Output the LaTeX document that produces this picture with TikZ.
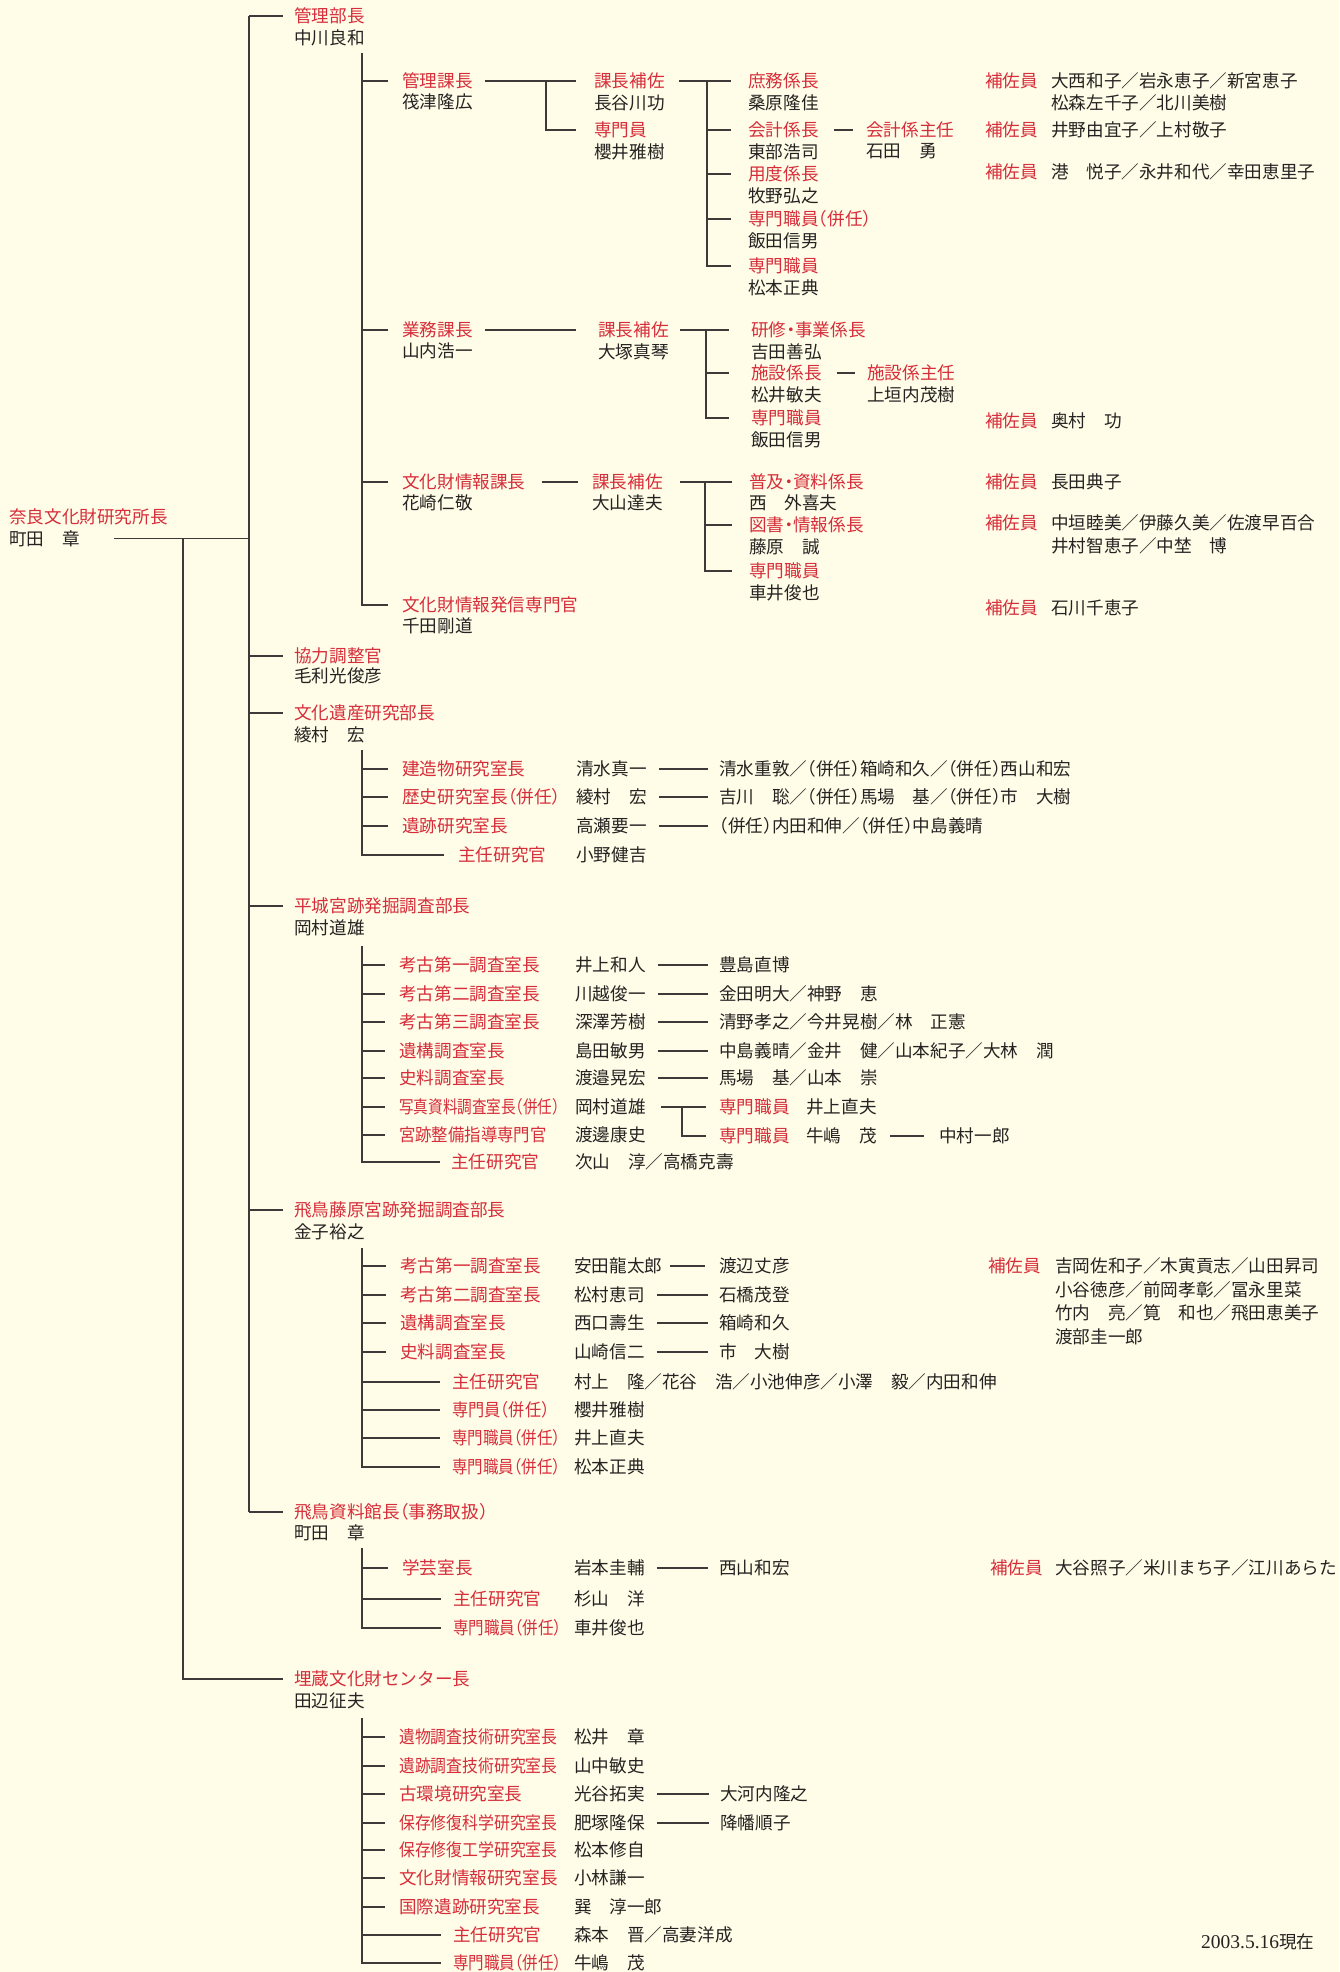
\documentclass[tikz,border=0pt]{standalone}
\usepackage{fontspec}
\setmainfont{Noto Sans CJK JP}[RawFeature=+halt]
\newfontfamily\datefont{Liberation Serif}
\usepackage{xcolor}
\usetikzlibrary{positioning,calc}
\definecolor{jred}{RGB}{214,45,58}
\definecolor{jink}{RGB}{38,34,34}
\definecolor{jline}{RGB}{62,58,58}
\definecolor{paper}{RGB}{255,253,232}

\begin{document}
\begin{tikzpicture}[x=1pt,y=-1pt,font=\fontsize{17.6}{21}\selectfont,
  tt/.style={anchor=west,inner sep=0pt,text=jred},
  nm/.style={anchor=west,inner sep=0pt,text=jink},
  ln/.style={draw=jline,line width=1.3pt},
  lk/.style={ln,shorten <=12pt,shorten >=11pt}]
  \fill[paper] (0,0) rectangle (1339,1972);

  \node[tt] (root) at (9,517) {奈良文化財研究所長};
  \node[nm] (rootn) at ([yshift=-21.5pt]root.west) {町田　章};
  \coordinate (ta) at (249,16);
  \coordinate (tb) at (183,541);

  \node[tt] (bu1) at (294,16) {管理部長};
  \node[nm] (bu1n) at ([yshift=-22pt]bu1.west) {中川良和};
  \node[tt] (kyo) at (294,656) {協力調整官};
  \node[nm] (kyon) at ([yshift=-20pt]kyo.west) {毛利光俊彦};
  \node[tt] (iken) at (294,713) {文化遺産研究部長};
  \node[nm] (ikenn) at ([yshift=-21.5pt]iken.west) {綾村　宏};
  \node[tt] (heij) at (294,906) {平城宮跡発掘調査部長};
  \node[nm] (heijn) at ([yshift=-21.5pt]heij.west) {岡村道雄};
  \node[tt] (fuji) at (294,1210) {飛鳥藤原宮跡発掘調査部長};
  \node[nm] (fujin) at ([yshift=-21.5pt]fuji.west) {金子裕之};
  \node[tt] (asu) at (294,1512) {飛鳥資料館長（事務取扱）};
  \node[nm] (asun) at ([yshift=-21pt]asu.west) {町田　章};
  \node[tt] (maizo) at (294,1679) {埋蔵文化財センター長};
  \node[nm] (maizon) at ([yshift=-22pt]maizo.west) {田辺征夫};

  \draw[ln] ([xshift=34pt]rootn.east) -- (rootn.east -| ta);
  \draw[ln] (ta) -- (ta |- asu);
  \draw[ln] (tb |- rootn.east) |- ([xshift=-11pt]maizo.west);
  \draw[ln] (ta) -- ([xshift=-11pt]bu1.west)
    (ta |- kyo) -- ([xshift=-11pt]kyo.west)
    (ta |- iken) -- ([xshift=-11pt]iken.west)
    (ta |- heij) -- ([xshift=-11pt]heij.west)
    (ta |- fuji) -- ([xshift=-11pt]fuji.west)
    (ta |- asu) -- ([xshift=-11pt]asu.west);

  % 管理部
  \coordinate (tk) at (362,53);
  \node[tt] (ka1) at (402,81) {管理課長};
  \node[nm] (ka1n) at ([yshift=-21pt]ka1.west) {筏津隆広};
  \node[tt] (ka2) at (402,330) {業務課長};
  \node[nm] (ka2n) at ([yshift=-21pt]ka2.west) {山内浩一};
  \node[tt] (ka3) at (402,482) {文化財情報課長};
  \node[nm] (ka3n) at ([yshift=-21pt]ka3.west) {花崎仁敬};
  \node[tt] (ka4) at (402,605) {文化財情報発信専門官};
  \node[nm] (ka4n) at ([yshift=-21pt]ka4.west) {千田剛道};
  \draw[ln] (tk) |- ([xshift=-14pt]ka4.west);
  \draw[ln] (tk |- ka1) -- ([xshift=-14pt]ka1.west)
    (tk |- ka2) -- ([xshift=-14pt]ka2.west)
    (tk |- ka3) -- ([xshift=-14pt]ka3.west);

  \node[tt] (hs1) at (594,81) {課長補佐};
  \node[nm] (hs1n) at ([yshift=-22pt]hs1.west) {長谷川功};
  \node[tt] (sm1) at (594,130) {専門員};
  \node[nm] (sm1n) at ([yshift=-22pt]sm1.west) {櫻井雅樹};
  \coordinate (k1) at (546,81);
  \draw[ln] ([xshift=12pt]ka1.east) -- ([xshift=-18pt]hs1.west);
  \draw[ln] (k1) |- ([xshift=-18pt]sm1.west);

  \node[tt] (kk1) at (748,81) {庶務係長};
  \node[nm] (kk1n) at ([yshift=-21.5pt]kk1.west) {桑原隆佳};
  \node[tt] (kk2) at (748,130) {会計係長};
  \node[nm] (kk2n) at ([yshift=-21.5pt]kk2.west) {東部浩司};
  \node[tt] (kk3) at (748,174) {用度係長};
  \node[nm] (kk3n) at ([yshift=-21.5pt]kk3.west) {牧野弘之};
  \node[tt] (kk4) at (748,219) {専門職員（併任）};
  \node[nm] (kk4n) at ([yshift=-21.5pt]kk4.west) {飯田信男};
  \node[tt] (kk5) at (748,266) {専門職員};
  \node[nm] (kk5n) at ([yshift=-21.5pt]kk5.west) {松本正典};
  \node[tt] (ks) at (866,130) {会計係主任};
  \node[nm] (ksn) at ([yshift=-21.5pt]ks.west) {石田　勇};
  \coordinate (k2) at (707,81);
  \draw[ln] ([xshift=14pt]hs1.east) -- ([xshift=-17pt]kk1.west);
  \draw[ln] (k2) |- ([xshift=-17pt]kk5.west);
  \draw[ln] (k2 |- kk2) -- ([xshift=-17pt]kk2.west)
    (k2 |- kk3) -- ([xshift=-17pt]kk3.west)
    (k2 |- kk4) -- ([xshift=-17pt]kk4.west);
  \draw[ln] ([xshift=15pt]kk2.east) -- ([xshift=-13pt]ks.west);

  \node[tt] (hy1) at (985,81) {補佐員};
  \node[nm] (hy1n) at (1051,81) {大西和子／岩永恵子／新宮恵子};
  \node[nm] (hy1m) at ([yshift=-21.5pt]hy1n.west) {松森左千子／北川美樹};
  \node[tt] (hy2) at (985,130) {補佐員};
  \node[nm] (hy2n) at (1051,130) {井野由宜子／上村敬子};
  \node[tt] (hy3) at (985,172) {補佐員};
  \node[nm] (hy3n) at (1051,172) {港　悦子／永井和代／幸田恵里子};

  \node[tt] (hs2) at (598,330) {課長補佐};
  \node[nm] (hs2n) at ([yshift=-22pt]hs2.west) {大塚真琴};
  \draw[ln] ([xshift=12pt]ka2.east) -- ([xshift=-22pt]hs2.west);
  \node[tt] (gk1) at (751,330) {研修・事業係長};
  \node[nm] (gk1n) at ([yshift=-21.5pt]gk1.west) {吉田善弘};
  \node[tt] (gk2) at (751,373) {施設係長};
  \node[nm] (gk2n) at ([yshift=-21.5pt]gk2.west) {松井敏夫};
  \node[tt] (gk3) at (751,418) {専門職員};
  \node[nm] (gk3n) at ([yshift=-21.5pt]gk3.west) {飯田信男};
  \node[tt] (gs) at (867,373) {施設係主任};
  \node[nm] (gsn) at ([yshift=-21.5pt]gs.west) {上垣内茂樹};
  \coordinate (k3) at (706,330);
  \draw[ln] ([xshift=11pt]hs2.east) -- ([xshift=-22pt]gk1.west);
  \draw[ln] (k3) |- ([xshift=-22pt]gk3.west);
  \draw[ln] (k3 |- gk2) -- ([xshift=-22pt]gk2.west);
  \draw[ln] ([xshift=15pt]gk2.east) -- ([xshift=-12pt]gs.west);
  \node[tt] (hy4) at (985,421) {補佐員};
  \node[nm] (hy4n) at (1051,421) {奥村　功};

  \node[tt] (hs3) at (592,482) {課長補佐};
  \node[nm] (hs3n) at ([yshift=-21pt]hs3.west) {大山達夫};
  \draw[ln] ([xshift=16pt]ka3.east) -- ([xshift=-14pt]hs3.west);
  \node[tt] (jk1) at (749,482) {普及・資料係長};
  \node[nm] (jk1n) at ([yshift=-21pt]jk1.west) {西　外喜夫};
  \node[tt] (jk2) at (749,525) {図書・情報係長};
  \node[nm] (jk2n) at ([yshift=-21.5pt]jk2.west) {藤原　誠};
  \node[tt] (jk3) at (749,571) {専門職員};
  \node[nm] (jk3n) at ([yshift=-22pt]jk3.west) {車井俊也};
  \coordinate (k4) at (705,482);
  \draw[ln] ([xshift=17pt]hs3.east) -- ([xshift=-17pt]jk1.west);
  \draw[ln] (k4) |- ([xshift=-17pt]jk3.west);
  \draw[ln] (k4 |- jk2) -- ([xshift=-17pt]jk2.west);
  \node[tt] (hy5) at (985,482) {補佐員};
  \node[nm] (hy5n) at (1051,482) {長田典子};
  \node[tt] (hy6) at (985,523) {補佐員};
  \node[nm] (hy6n) at (1051,523) {中垣睦美／伊藤久美／佐渡早百合};
  \node[nm] (hy6m) at ([yshift=-23pt]hy6n.west) {井村智恵子／中埜　博};
  \node[tt] (hy7) at (985,608) {補佐員};
  \node[nm] (hy7n) at (1051,608) {石川千恵子};

  % 文化遺産研究部
  \coordinate (t2) at (362,750);
  \node[tt] (br1) at (402,769) {建造物研究室長};
  \node[nm] (br1n) at (576,769) {清水真一};
  \node[nm] (br1m) at (719,769) {清水重敦／（併任）箱崎和久／（併任）西山和宏};
  \node[tt] (br2) at (402,797) {歴史研究室長（併任）};
  \node[nm] (br2n) at (576,797) {綾村　宏};
  \node[nm] (br2m) at (719,797) {吉川　聡／（併任）馬場　基／（併任）市　大樹};
  \node[tt] (br3) at (402,826) {遺跡研究室長};
  \node[nm] (br3n) at (576,826) {高瀬要一};
  \node[nm] (br3m) at (719,826) {（併任）内田和伸／（併任）中島義晴};
  \node[tt] (br4) at (458,855) {主任研究官};
  \node[nm] (br4n) at (576,855) {小野健吉};
  \draw[ln] (t2) |- ([xshift=-14pt]br4.west);
  \draw[ln] (t2 |- br1) -- ([xshift=-14pt]br1.west)
    (t2 |- br2) -- ([xshift=-14pt]br2.west)
    (t2 |- br3) -- ([xshift=-14pt]br3.west);
  \draw[lk] (br1n.east) -- (br1m.west);
  \draw[lk] (br2n.east) -- (br2m.west);
  \draw[lk] (br3n.east) -- (br3m.west);

  % 平城宮跡発掘調査部
  \coordinate (t3) at (362,946);
  \node[tt] (hj1) at (399,965) {考古第一調査室長};
  \node[nm] (hj1n) at (575,965) {井上和人};
  \node[nm] (hj1m) at (719,965) {豊島直博};
  \node[tt] (hj2) at (399,994) {考古第二調査室長};
  \node[nm] (hj2n) at (575,994) {川越俊一};
  \node[nm] (hj2m) at (719,994) {金田明大／神野　恵};
  \node[tt] (hj3) at (399,1022) {考古第三調査室長};
  \node[nm] (hj3n) at (575,1022) {深澤芳樹};
  \node[nm] (hj3m) at (719,1022) {清野孝之／今井晃樹／林　正憲};
  \node[tt] (hj4) at (399,1051) {遺構調査室長};
  \node[nm] (hj4n) at (575,1051) {島田敏男};
  \node[nm] (hj4m) at (719,1051) {中島義晴／金井　健／山本紀子／大林　潤};
  \node[tt] (hj5) at (399,1078) {史料調査室長};
  \node[nm] (hj5n) at (575,1078) {渡邉晃宏};
  \node[nm] (hj5m) at (719,1078) {馬場　基／山本　崇};
  \node[tt] (hj6) at (399,1107) {\scalebox{0.83}[1]{写真資料調査室長（併任）}};
  \node[nm] (hj6n) at (575,1107) {岡村道雄};
  \node[tt] (hj7) at (399,1135) {\scalebox{0.93}[1]{宮跡整備指導専門官}};
  \node[nm] (hj7n) at (575,1135) {渡邊康史};
  \node[tt] (hj8) at (451,1162) {主任研究官};
  \node[nm] (hj8n) at (575,1162) {次山　淳／高橋克壽};
  \draw[ln] (t3) |- ([xshift=-11pt]hj8.west);
  \draw[ln] (t3 |- hj1) -- ([xshift=-14pt]hj1.west)
    (t3 |- hj2) -- ([xshift=-14pt]hj2.west)
    (t3 |- hj3) -- ([xshift=-14pt]hj3.west)
    (t3 |- hj4) -- ([xshift=-14pt]hj4.west)
    (t3 |- hj5) -- ([xshift=-14pt]hj5.west)
    (t3 |- hj6) -- ([xshift=-14pt]hj6.west)
    (t3 |- hj7) -- ([xshift=-14pt]hj7.west);
  \draw[lk] (hj1n.east) -- (hj1m.west);
  \draw[lk] (hj2n.east) -- (hj2m.west);
  \draw[lk] (hj3n.east) -- (hj3m.west);
  \draw[lk] (hj4n.east) -- (hj4m.west);
  \draw[lk] (hj5n.east) -- (hj5m.west);
  \node[tt] (sk1) at (719,1107) {専門職員};
  \node[nm] (sk1n) at (806,1107) {井上直夫};
  \node[tt] (sk2) at (719,1136) {専門職員};
  \node[nm] (sk2n) at (806,1136) {牛嶋　茂};
  \node[nm] (nk) at (939,1136) {中村一郎};
  \coordinate (k5) at (682,1107);
  \draw[ln] ([xshift=15pt]hj6n.east) -- ([xshift=-13pt]sk1.west);
  \draw[ln] (k5) |- ([xshift=-13pt]sk2.west);
  \draw[ln,shorten <=13pt,shorten >=15pt] (sk2n.east) -- (nk.west);

  % 飛鳥藤原宮跡発掘調査部
  \coordinate (t4) at (362,1248);
  \node[tt] (fj1) at (400,1266) {考古第一調査室長};
  \node[nm] (fj1n) at (574,1266) {安田龍太郎};
  \node[nm] (fj1m) at (719,1266) {渡辺丈彦};
  \node[tt] (fj2) at (400,1295) {考古第二調査室長};
  \node[nm] (fj2n) at (574,1295) {松村恵司};
  \node[nm] (fj2m) at (719,1295) {石橋茂登};
  \node[tt] (fj3) at (400,1323) {遺構調査室長};
  \node[nm] (fj3n) at (574,1323) {西口壽生};
  \node[nm] (fj3m) at (719,1323) {箱崎和久};
  \node[tt] (fj4) at (400,1352) {史料調査室長};
  \node[nm] (fj4n) at (574,1352) {山崎信二};
  \node[nm] (fj4m) at (719,1352) {市　大樹};
  \node[tt] (fj5) at (452,1382) {主任研究官};
  \node[nm] (fj5n) at (574,1382) {村上　隆／花谷　浩／小池伸彦／小澤　毅／内田和伸};
  \node[tt] (fj6) at (452,1410) {\scalebox{0.92}[1]{専門員（併任）}};
  \node[nm] (fj6n) at (574,1410) {櫻井雅樹};
  \node[tt] (fj7) at (452,1438) {\scalebox{0.88}[1]{専門職員（併任）}};
  \node[nm] (fj7n) at (574,1438) {井上直夫};
  \node[tt] (fj8) at (452,1467) {\scalebox{0.88}[1]{専門職員（併任）}};
  \node[nm] (fj8n) at (574,1467) {松本正典};
  \draw[ln] (t4) |- ([xshift=-12pt]fj8.west);
  \draw[ln] (t4 |- fj1) -- ([xshift=-14pt]fj1.west)
    (t4 |- fj2) -- ([xshift=-14pt]fj2.west)
    (t4 |- fj3) -- ([xshift=-14pt]fj3.west)
    (t4 |- fj4) -- ([xshift=-14pt]fj4.west)
    (t4 |- fj5) -- ([xshift=-12pt]fj5.west)
    (t4 |- fj6) -- ([xshift=-12pt]fj6.west)
    (t4 |- fj7) -- ([xshift=-12pt]fj7.west);
  \draw[ln,shorten <=8pt,shorten >=14pt] (fj1n.east) -- (fj1m.west);
  \draw[lk] (fj2n.east) -- (fj2m.west);
  \draw[lk] (fj3n.east) -- (fj3m.west);
  \draw[lk] (fj4n.east) -- (fj4m.west);
  \node[tt] (hy8) at (988,1266) {補佐員};
  \node[nm] (hy8a) at (1055,1266) {吉岡佐和子／木寅貢志／山田昇司};
  \node[nm] (hy8b) at ([yshift=-23.5pt]hy8a.west) {小谷徳彦／前岡孝彰／冨永里菜};
  \node[nm] (hy8c) at ([yshift=-23.5pt]hy8b.west) {竹内　亮／筧　和也／飛田恵美子};
  \node[nm] (hy8d) at ([yshift=-23.5pt]hy8c.west) {渡部圭一郎};

  % 飛鳥資料館
  \coordinate (t5) at (362,1548);
  \node[tt] (as1) at (402,1568) {学芸室長};
  \node[nm] (as1n) at (574,1568) {岩本圭輔};
  \node[nm] (as1m) at (719,1568) {西山和宏};
  \node[tt] (as2) at (453,1599) {主任研究官};
  \node[nm] (as2n) at (574,1599) {杉山　洋};
  \node[tt] (as3) at (453,1628) {\scalebox{0.88}[1]{専門職員（併任）}};
  \node[nm] (as3n) at (574,1628) {車井俊也};
  \draw[ln] (t5) |- ([xshift=-12pt]as3.west);
  \draw[ln] (t5 |- as1) -- ([xshift=-14pt]as1.west)
    (t5 |- as2) -- ([xshift=-12pt]as2.west);
  \draw[lk] (as1n.east) -- (as1m.west);
  \node[tt] (hy9) at (990,1568) {補佐員};
  \node[nm] (hy9n) at (1055,1568) {大谷照子／米川まち子／江川あらた};

  % 埋蔵文化財センター
  \coordinate (t6) at (362,1718);
  \node[tt] (mz1) at (399,1737) {\scalebox{0.9}[1]{遺物調査技術研究室長}};
  \node[nm] (mz1n) at (574,1737) {松井　章};
  \node[tt] (mz2) at (399,1766) {\scalebox{0.9}[1]{遺跡調査技術研究室長}};
  \node[nm] (mz2n) at (574,1766) {山中敏史};
  \node[tt] (mz3) at (399,1794) {古環境研究室長};
  \node[nm] (mz3n) at (574,1794) {光谷拓実};
  \node[nm] (mz3m) at (720,1794) {大河内隆之};
  \node[tt] (mz4) at (399,1823) {\scalebox{0.9}[1]{保存修復科学研究室長}};
  \node[nm] (mz4n) at (574,1823) {肥塚隆保};
  \node[nm] (mz4m) at (720,1823) {降幡順子};
  \node[tt] (mz5) at (399,1850) {\scalebox{0.9}[1]{保存修復工学研究室長}};
  \node[nm] (mz5n) at (574,1850) {松本修自};
  \node[tt] (mz6) at (399,1878) {文化財情報研究室長};
  \node[nm] (mz6n) at (574,1878) {小林謙一};
  \node[tt] (mz7) at (399,1907) {国際遺跡研究室長};
  \node[nm] (mz7n) at (574,1907) {巽　淳一郎};
  \node[tt] (mz8) at (453,1935) {主任研究官};
  \node[nm] (mz8n) at (574,1935) {森本　晋／高妻洋成};
  \node[tt] (mz9) at (453,1963) {\scalebox{0.88}[1]{専門職員（併任）}};
  \node[nm] (mz9n) at (574,1963) {牛嶋　茂};
  \draw[ln] (t6) |- ([xshift=-12pt]mz9.west);
  \draw[ln] (t6 |- mz1) -- ([xshift=-14pt]mz1.west)
    (t6 |- mz2) -- ([xshift=-14pt]mz2.west)
    (t6 |- mz3) -- ([xshift=-14pt]mz3.west)
    (t6 |- mz4) -- ([xshift=-14pt]mz4.west)
    (t6 |- mz5) -- ([xshift=-14pt]mz5.west)
    (t6 |- mz6) -- ([xshift=-14pt]mz6.west)
    (t6 |- mz7) -- ([xshift=-14pt]mz7.west)
    (t6 |- mz8) -- ([xshift=-12pt]mz8.west);
  \draw[lk] (mz3n.east) -- (mz3m.west);
  \draw[lk] (mz4n.east) -- (mz4m.west);

  \node[nm] (date) at (1201,1942) {{\datefont\fontsize{19.5}{21}\selectfont 2003.5.16}現在};
\end{tikzpicture}
\end{document}
